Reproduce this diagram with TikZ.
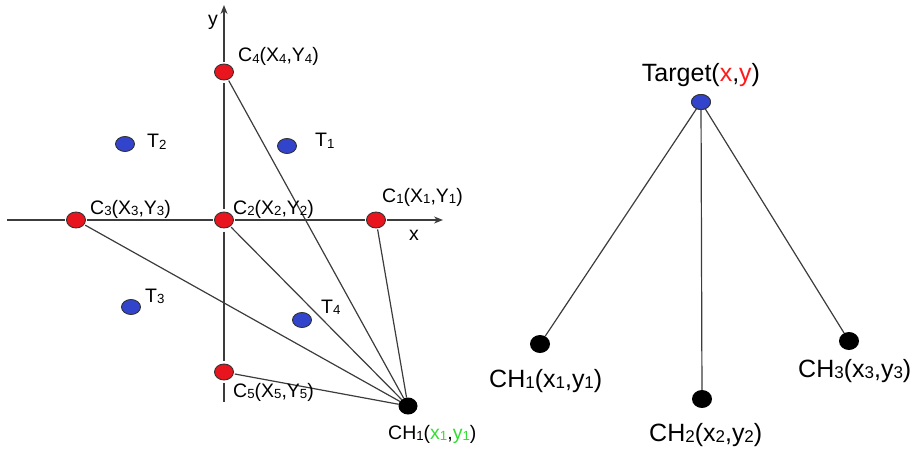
\documentclass[tikz,border=0pt]{standalone}
\usepackage{fontspec}
\setmainfont{Liberation Sans}
\usetikzlibrary{shapes.geometric,arrows.meta}
\newcommand\dg[1]{\raisebox{-0.12ex}{\scalebox{0.68}{#1}}}
\definecolor{dotred}{HTML}{E8141E}
\definecolor{dotblue}{HTML}{3344CC}
\definecolor{lin}{HTML}{3C3C3C}
\definecolor{grn}{HTML}{33DD33}
\definecolor{tred}{HTML}{FF1A1A}
\begin{document}
\begin{tikzpicture}[x=1pt,y=-1pt,
  reddot/.style={ellipse,draw=black!80,line width=0.9pt,fill=dotred,minimum width=19pt,minimum height=16pt,inner sep=0pt,outer sep=1.5pt},
  bluedot/.style={ellipse,draw=black!80,line width=0.9pt,fill=dotblue,minimum width=19pt,minimum height=15pt,inner sep=0pt,outer sep=1pt},
  blackdot/.style={ellipse,fill=black,minimum width=19pt,minimum height=17pt,inner sep=0pt,outer sep=0pt},
  lbl/.style={anchor=base west,inner sep=0pt,font=\fontsize{19.5}{22}\selectfont},
  biglbl/.style={anchor=base west,inner sep=0pt,font=\fontsize{25}{28}\selectfont},
  axis/.style={draw=lin,line width=1.6pt},
  conn/.style={draw=lin,line width=1.2pt}]
\useasboundingbox (0,0) rectangle (912,449);
% axis end points
\coordinate (xl) at (7,220);
\coordinate (xr) at (443,220);
\coordinate (yt) at (224,5);
\coordinate (yb) at (224,402);
% left dots
\node[reddot] (C4) at (224,72) {};
\node[reddot] (C3) at (76,220) {};
\node[reddot] (C2) at (224,220) {};
\node[reddot] (C1) at (376,220) {};
\node[reddot] (C5) at (224,372) {};
\node[bluedot] (T2) at (125,144) {};
\node[bluedot] (T1) at (287,146) {};
\node[bluedot] (T3) at (131,307) {};
\node[bluedot] (T4) at (302,320) {};
\node[blackdot] (CHa) at (408,406) {};
% axes
\draw[axis] (xl) -- (C3) (C3) -- (C2) (C2) -- (C1);
\draw[axis,-{Stealth[length=9pt,width=7pt]}] (C1) -- (xr);
\draw[axis,-{Stealth[length=9pt,width=7pt]}] (C4) -- (yt);
\draw[axis,shorten <=2pt,shorten >=2pt] (C4) -- (C2);
\draw[axis,shorten <=2pt,shorten >=2pt] (C2) -- (C5);
\coordinate (yb0) at (224,383);
\draw[axis] (yb0) -- (yb);
% connectors to CH1
\foreach \n in {C4,C3,C2,C1,C5} \draw[conn] (CHa) -- (\n);
% labels left
\node[lbl] (ly) at (208,26) {y};
\node[lbl] (lx) at (409,240) {x};
\node[lbl] (lC4) at (238,62) {C\dg{4}(X\dg{4},Y\dg{4})};
\node[lbl] (lC3) at (90,214) {C\dg{3}(X\dg{3},Y\dg{3})};
\node[lbl] (lC2) at (233,214) {C\dg{2}(X\dg{2},Y\dg{2})};
\node[lbl] (lC1) at (382,202) {C\dg{1}(X\dg{1},Y\dg{1})};
\node[lbl] (lC5) at (233,397) {C\dg{5}(X\dg{5},Y\dg{5})};
\node[lbl] (lT2) at (147,148) {T\dg{2}};
\node[lbl] (lT1) at (315,147) {T\dg{1}};
\node[lbl] (lT3) at (145,302) {T\dg{3}};
\node[lbl] (lT4) at (321,313) {T\dg{4}};
\node[lbl] (lCHa) at (388,439) {CH\dg{1}(\textcolor{grn}{x\dg{1}},\textcolor{grn}{y\dg{1}})};
% right part
\node[bluedot] (Tg) at (701,102) {};
\node[blackdot,minimum width=20pt,minimum height=18pt] (R1) at (540,344) {};
\node[blackdot,minimum width=20pt,minimum height=18pt] (R2) at (702,399) {};
\node[blackdot,minimum width=20pt,minimum height=18pt] (R3) at (849,341) {};
\foreach \n in {R1,R2,R3} \draw[conn] (Tg.center) -- (\n);
\node[bluedot] at (Tg) {};
\node[biglbl,anchor=base] (lTg) at (701,82) {Target(\textcolor{tred}{x},\textcolor{tred}{y})};
\node[biglbl] (lR1) at (489,387) {CH\dg{1}(x\dg{1},y\dg{1})};
\node[biglbl] (lR2) at (649,441) {CH\dg{2}(x\dg{2},y\dg{2})};
\node[biglbl] (lR3) at (798,377) {CH\dg{3}(x\dg{3},y\dg{3})};
\end{tikzpicture}
\end{document}
